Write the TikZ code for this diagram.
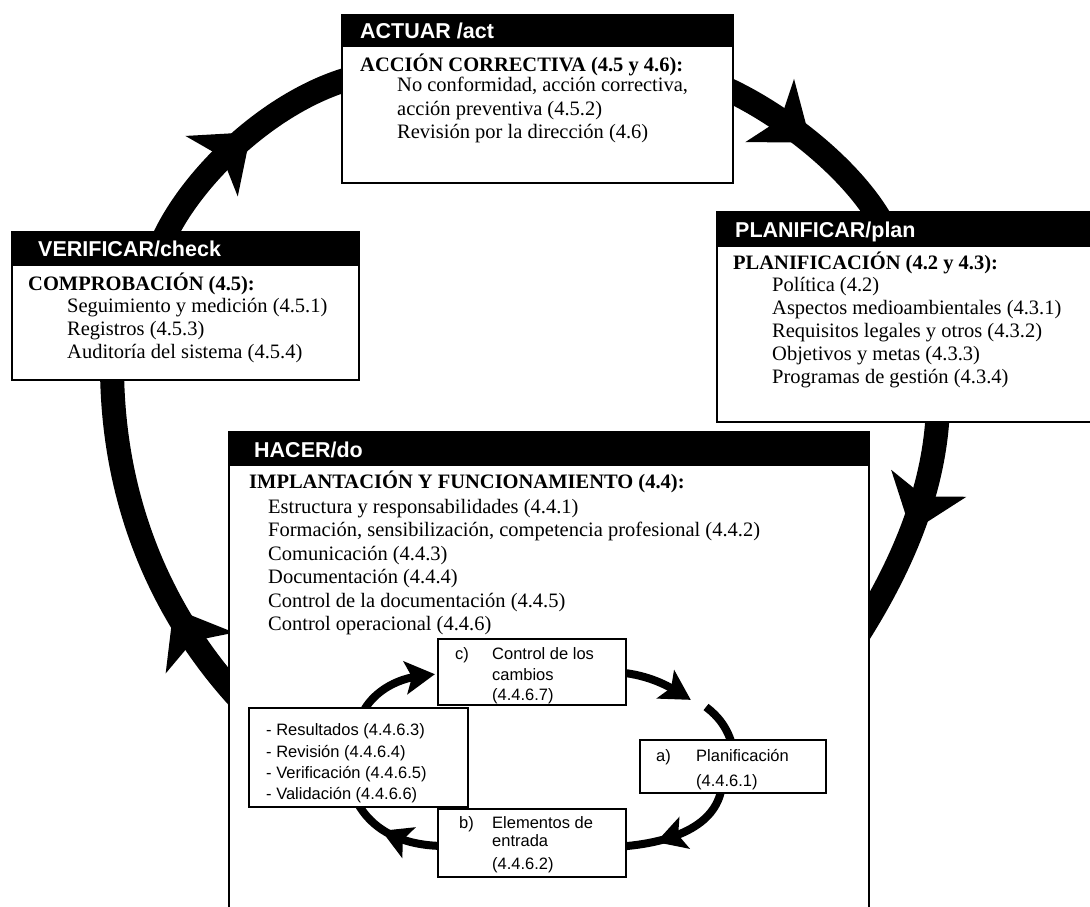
\documentclass[tikz,border=0pt]{standalone}
\usepackage{fontspec}
\setmainfont{Liberation Serif}
\newfontfamily\hdfont{Liberation Sans}
\newfontfamily\insans{Liberation Sans}
\usetikzlibrary{decorations.markings}
\tikzset{
  bigarrow/.style={line width=24pt, draw=black},
  bighead/.style={decoration={markings, mark=at position #1 with {\fill[black] (12pt,0pt) -- (-40pt,40pt) -- (-26pt,0pt) -- (-40pt,-40pt) -- cycle;}}, postaction={decorate}},
  smallarrow/.style={line width=8pt, draw=black},
  smallhead/.style={decoration={markings, mark=at position #1 with {\fill[black] (15pt,0pt) -- (-15pt,17pt) -- (-8pt,0pt) -- (-15pt,-17pt) -- cycle;}}, postaction={decorate}},
  box/.style={draw=black, line width=2pt, fill=white, inner sep=0pt},
  ibox/.style={draw=black, line width=1.8pt, fill=white, inner sep=0pt},
  hdr/.style={fill=black, inner sep=0pt},
  hdtext/.style={anchor=base west, inner sep=0pt, text=white, font=\hdfont\bfseries\fontsize{21.5}{24}\selectfont},
  body/.style={anchor=base west, inner sep=0pt, font=\fontsize{20.5}{23}\selectfont},
  bodyb/.style={anchor=base west, inner sep=0pt, font=\bfseries\fontsize{20.5}{23}\selectfont},
  inner/.style={anchor=base west, inner sep=0pt, font=\insans\fontsize{16.5}{20}\selectfont},
}
\begin{document}
\begin{tikzpicture}[x=1pt,y=-1pt]
\useasboundingbox (0,0) rectangle (1090,907);

% end points of the big cycle
\coordinate (v1) at (158,252);
\coordinate (a1) at (360,76);
\coordinate (a2) at (720,86);
\coordinate (p1) at (885,228);
\coordinate (p2) at (938,405);
\coordinate (h1) at (855,640);
\coordinate (h2) at (245,705);
\coordinate (v2) at (112,365);

\draw[bigarrow, bighead=0.51] (v1) .. controls (185,180) and (275,95) .. (a1);
\draw[bigarrow, bighead=0.43] (a2) .. controls (780,112) and (855,170) .. (p1);
\draw[bigarrow, bighead=0.47] (p2) .. controls (936,490) and (900,570) .. (h1);
\draw[bigarrow, bighead=0.29] (h2) .. controls (172,628) and (112,515) .. (v2);

% ACTUAR
\node[box, minimum width=391pt, minimum height=168pt] (actuar) at (537.5,99) {};
\node[hdr, minimum width=391pt, minimum height=32pt] (actuarh) at (537.5,31) {};
\node[hdtext] (actuart) at (360,38.5) {ACTUAR /act};
\node[bodyb] (actuar0) at (360,71) {ACCIÓN CORRECTIVA (4.5 y 4.6):};
\node[body] (actuar1) at (397,92) {No conformidad, acción correctiva,};
\node[body] (actuar2) at (397,115) {acción preventiva (4.5.2)};
\node[body] (actuar3) at (397,138) {Revisión por la dirección (4.6)};

% VERIFICAR
\node[box, minimum width=347pt, minimum height=148pt] (verif) at (185.5,306) {};
\node[hdr, minimum width=347pt, minimum height=34pt] (verifh) at (185.5,249) {};
\node[hdtext] (verift) at (38,256.5) {VERIFICAR/check};
\node[bodyb] (verif0) at (28,290) {COMPROBACIÓN (4.5):};
\node[body] (verif1) at (67,312) {Seguimiento y medición (4.5.1)};
\node[body] (verif2) at (67,335) {Registros (4.5.3)};
\node[body] (verif3) at (67,358) {Auditoría del sistema (4.5.4)};

% PLANIFICAR
\node[box, minimum width=383pt, minimum height=210pt] (plan) at (908.5,317) {};
\node[hdr, minimum width=383pt, minimum height=35pt] (planh) at (908.5,229.5) {};
\node[hdtext] (plant) at (735,237) {PLANIFICAR/plan};
\node[bodyb] (plan0) at (733,269) {PLANIFICACIÓN (4.2 y 4.3):};
\node[body] (plan1) at (772,291) {Política (4.2)};
\node[body] (plan2) at (772,314) {Aspectos medioambientales (4.3.1)};
\node[body] (plan3) at (772,337) {Requisitos legales y otros (4.3.2)};
\node[body] (plan4) at (772,360) {Objetivos y metas (4.3.3)};
\node[body] (plan5) at (772,383) {Programas de gestión (4.3.4)};

% HACER
\node[box, minimum width=640pt, minimum height=488pt] (hacer) at (549,676) {};
\node[hdr, minimum width=640pt, minimum height=34pt] (hacerh) at (549,449) {};
\node[hdtext] (hacert) at (254,457) {HACER/do};
\node[bodyb] (hacer0) at (249,488) {IMPLANTACIÓN Y FUNCIONAMIENTO (4.4):};
\node[body] (hacer1) at (268,513) {Estructura y responsabilidades (4.4.1)};
\node[body] (hacer2) at (268,536) {Formación, sensibilización, competencia profesional (4.4.2)};
\node[body] (hacer3) at (268,560) {Comunicación (4.4.3)};
\node[body] (hacer4) at (268,583) {Documentación (4.4.4)};
\node[body] (hacer5) at (268,607) {Control de la documentación (4.4.5)};
\node[body] (hacer6) at (268,630) {Control operacional (4.4.6)};

% inner cycle
\coordinate (r1) at (362,714);
\coordinate (c1) at (420,676);
\coordinate (c2) at (615,672);
\coordinate (m1) at (678,692);
\coordinate (m2) at (706,707);
\coordinate (q1) at (733,748);
\coordinate (q2) at (722,785);
\coordinate (b1) at (615,847);
\coordinate (b2) at (445,846);
\coordinate (r2) at (356,800);

\draw[smallarrow, smallhead=0.999] (r1) .. controls (372,693) and (395,679) .. (c1);
\draw[smallarrow, smallhead=0.999] (c2) .. controls (645,674) and (665,684) .. (m1);
\draw[smallarrow] (m2) .. controls (718,716) and (728,728) .. (q1);
\draw[smallarrow, smallhead=0.58] (q2) .. controls (718,822) and (680,843) .. (b1);
\draw[smallarrow, smallhead=0.48] (b2) .. controls (405,846) and (372,832) .. (r2);

\node[ibox, minimum width=188pt, minimum height=66pt] (cbox) at (532,672) {};
\node[inner] (cbox0) at (455,659) {c)};
\node[inner] (cbox1) at (492,659) {Control de los};
\node[inner] (cbox2) at (492,680) {cambios};
\node[inner] (cbox3) at (492,700) {(4.4.6.7)};

\node[ibox, minimum width=219pt, minimum height=99pt] (rbox) at (358.5,757.5) {};
\node[inner] (rbox1) at (266,735) {- Resultados (4.4.6.3)};
\node[inner] (rbox2) at (266,757) {- Revisión (4.4.6.4)};
\node[inner] (rbox3) at (266,778) {- Verificación (4.4.6.5)};
\node[inner] (rbox4) at (266,799) {- Validación (4.4.6.6)};

\node[ibox, minimum width=186pt, minimum height=53pt] (abox) at (733,766.5) {};
\node[inner] (abox0) at (656,761) {a)};
\node[inner] (abox1) at (696,761) {Planificación};
\node[inner] (abox2) at (696,786) {(4.4.6.1)};

\node[ibox, minimum width=188pt, minimum height=68pt] (bbox) at (532,843) {};
\node[inner] (bbox0) at (459,828) {b)};
\node[inner] (bbox1) at (492,828) {Elementos de};
\node[inner] (bbox2) at (492,846) {entrada};
\node[inner] (bbox3) at (492,869) {(4.4.6.2)};
\end{tikzpicture}
\end{document}
